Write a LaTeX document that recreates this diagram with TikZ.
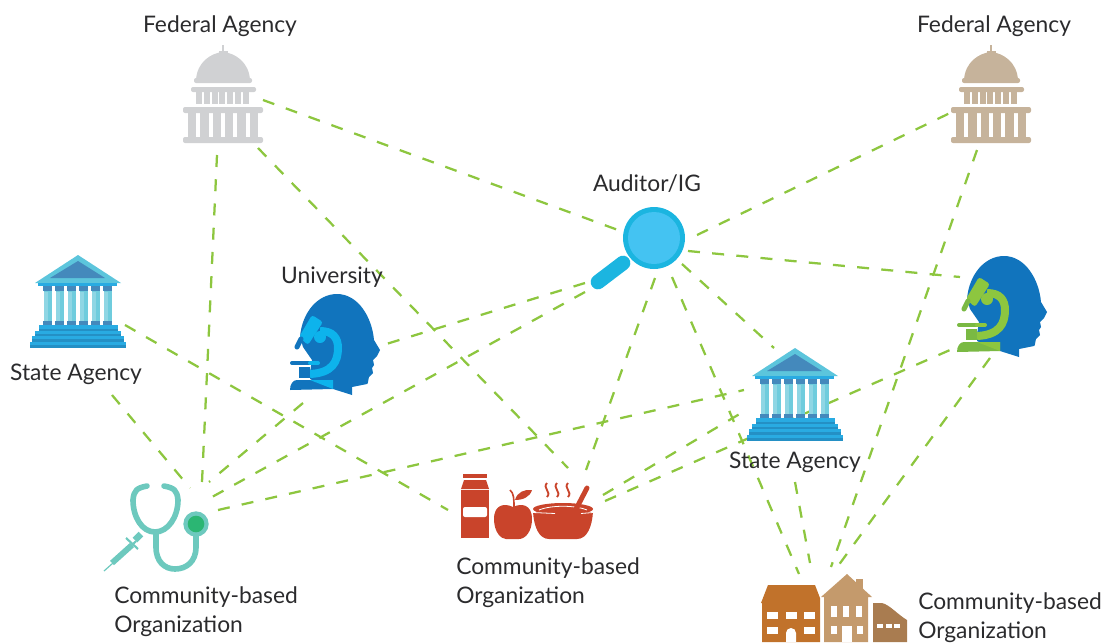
\documentclass[tikz,border=0pt]{standalone}
\usepackage{fontspec}
\setmainfont{Lato}
\definecolor{linkgreen}{HTML}{8DC63F}
\definecolor{ink}{HTML}{2B2B2D}
\definecolor{capgray}{HTML}{D0D1D3}
\definecolor{captan}{HTML}{C6B39B}
\definecolor{roofblue}{HTML}{5CC5DC}
\definecolor{slateblue}{HTML}{4489BC}
\definecolor{stepblue}{HTML}{29ABE2}
\definecolor{stepdark}{HTML}{2490C5}
\definecolor{shaftblue}{HTML}{6FCCDD}
\definecolor{shaftpale}{HTML}{8FD6E4}
\definecolor{headblue}{HTML}{1174BD}
\definecolor{scopeblue}{HTML}{0DB3EC}
\definecolor{scopegreen}{HTML}{8DC63F}
\definecolor{scopedark}{HTML}{7AB943}
\definecolor{lensring}{HTML}{1BB5E0}
\definecolor{lensfill}{HTML}{44C3F2}
\definecolor{stetho}{HTML}{6DC9BE}
\definecolor{chestgreen}{HTML}{2BB673}
\definecolor{foodred}{HTML}{C9442B}
\definecolor{homeA}{HTML}{C1722B}
\definecolor{homeB}{HTML}{C49A6C}
\definecolor{homeC}{HTML}{A97C50}
\tikzset{
  hub/.style={inner sep=0pt,minimum size=0pt},
  lbl/.style={inner sep=0pt,text=ink,align=left,font=\fontsize{17.1}{21.75}\selectfont},
  link/.style={linkgreen,line width=1.7pt,dash pattern=on 9pt off 9.2pt},
  capitol/.pic={
    \fill[#1] (-.7,-55) rectangle (.7,-48);
    \fill[#1] (-4.5,-49) rectangle (4.5,-44);
    \fill[#1] (-27,-20) .. controls (-26,-38) and (-12,-47) .. (0,-48) .. controls (12,-47) and (26,-38) .. (27,-20) -- cycle;
    \fill[#1,rounded corners=1.5pt] (-29,-22) rectangle (29,-17);
    \fill[#1,rounded corners=1.5pt] (-32,-13) rectangle (33,-8);
    \foreach \i in {0,...,6} \fill[#1] (-27+7.8*\i,-9) rectangle (-21+7.8*\i,4);
    \fill[#1,rounded corners=1.5pt] (-40,7) rectangle (40,13);
    \foreach \i in {0,...,5} \fill[#1] (-35+12.3*\i,12) rectangle (-26.7+12.3*\i,38);
    \fill[#1,rounded corners=1.5pt] (-40,37) rectangle (40,43);
  },
  temple/.pic={
    \fill[roofblue] (0,-45) -- (43,-17) -- (-43,-17) -- cycle;
    \fill[slateblue] (0,-39) -- (27,-22) -- (-28,-22) -- cycle;
    \fill[stepblue] (-40,-17) rectangle (39,-14);
    \foreach \i in {0,...,5} {
      \fill[slateblue] (-34.7+12*\i,-14) rectangle (-25.7+12*\i,-9);
      \fill[shaftblue] (-34.2+12*\i,-9) rectangle (-26.2+12*\i,21);
      \fill[shaftpale] (-34.2+12*\i,-8) rectangle (-30.2+12*\i,21);
      \fill[slateblue] (-34.7+12*\i,21) rectangle (-25.7+12*\i,25);
    }
    \foreach \w/\a/\b/\c in {39.5/25/28.5/31,43/31/33.5/36,46/36/39/42,48/42/45/48} {
      \fill[stepblue] (-\w,\a) rectangle (\w,\b);
      \fill[stepdark] (-\w,\b) rectangle (\w,\c);
    }
  },
  pics/headscope/.style n args={3}{code={
    \fill[#1] (-30,-8) .. controls (-28,-33) and (-12,-51) .. (7,-51)
      .. controls (28,-51) and (42,-28) .. (44,-5) -- (50,5) -- (47,11) -- (43,15) -- (44,20) -- (42,23) -- (43,28) -- (39,32)
      .. controls (38,36) and (38,39) .. (37,39) -- (22,42) -- (22,50) -- (3,44) -- (-20,34) -- (-20,27) -- (-18,15) -- (-27,2) -- cycle;
    \fill[#2,rounded corners=2pt] (-18,-30) -- (-7,-23) -- (-22,0) -- (-31,-8) -- cycle;
    \draw[#3,line width=3.8pt,line cap=round] (-29,-6) -- (-33,2);
    \fill[#2] (-10,-8) circle (6);
    \draw[#2,line width=6pt] (-10,-14) .. controls (3,-14) and (8,-7) .. (8,3) .. controls (8,17) and (2,28) .. (-20,29);
    \draw[#3,line width=3pt,line cap=round] (-38,18) -- (-20,18);
    \draw[#2,line width=3pt,line cap=round] (-20,18) -- (-12,18);
    \fill[#3] (-31,22) rectangle (-20,33);
    \fill[#3] (-40,45) .. controls (-40,39) and (-37,35) .. (-33,35) -- (3,35) -- (3,44) -- cycle;
    \fill[#2] (-20,35) -- (3,35) -- (3,44) -- cycle;
  }},
  lens/.pic={
    \draw[lensring,line width=11pt,line cap=round] (-31,25) -- (-56,44);
    \fill[lensring] (0,0) circle (31);
    \fill[lensfill] (0,0) circle (26);
  },
  steth/.pic={
    \draw[stetho,line width=4.2pt,line cap=round] (-33,-39) .. controls (-43,-37) and (-46,-35) .. (-47,-25)
      .. controls (-47,-8) and (-38,7) .. (-25,7) .. controls (-12,7) and (-2,-8) .. (-2,-25)
      .. controls (-3,-35) and (-6,-37) .. (-16,-39);
    \draw[stetho,line width=4.2pt] (-24,7) -- (-24,22) .. controls (-24,37) and (-15,44) .. (-5,44) .. controls (6,44) and (16,37) .. (16,22) -- (16,8);
    \fill[stetho] (16,-1) circle (12.7);
    \fill[chestgreen] (16,-1) circle (8.3);
    \draw[stetho,line width=.9pt] (-76,46) -- (-67,38);
    \draw[stetho,line width=4.4pt] (-68,38) -- (-48,20);
    \draw[stetho,line width=1.6pt] (-54,13) -- (-42,24);
    \draw[stetho,line width=1.6pt] (-48,20) -- (-44,16);
    \draw[stetho,line width=5pt] (-45,15) -- (-39,9);
  },
  meal/.pic={
    \fill[foodred] (-62,-36) rectangle (-38,-32);
    \fill[foodred] (-61,-30) -- (-39,-30) -- (-36,-21) -- (-64,-21) -- cycle;
    \fill[foodred] (-64,-20) rectangle (-36,28);
    \fill[white,rounded corners=1.5pt] (-62,-3) rectangle (-38,7);
    \fill[foodred] (-12,-3) .. controls (-20,-7) and (-31,-6) .. (-31,9) .. controls (-31,22) and (-24,29) .. (-19,29) -- (-6,29)
      .. controls (0,29) and (7,22) .. (7,9) .. controls (7,-6) and (-4,-7) .. (-12,-3) -- cycle;
    \draw[foodred,line width=1.2pt] (-15,-20) .. controls (-11,-17) and (-11,-10) .. (-11,-3);
    \fill[foodred] (-10,-10) .. controls (-8,-18) and (0,-21) .. (7,-20) .. controls (5,-13) and (-2,-10) .. (-10,-10) -- cycle;
    \fill[foodred] (8,2) .. controls (9,17) and (14,29) .. (24,29) -- (52,29) .. controls (62,29) and (67,17) .. (68,2) -- cycle;
    \fill[foodred] (38,-1) ellipse (30 and 6);
    \draw[white,line width=.6pt] (14,0) .. controls (26,-5) and (50,-5) .. (62,0);
    \draw[white,line width=.6pt] (8,2.5) -- (30,3.5);
    \draw[white,line width=.6pt] (56,3.5) -- (68,2.5);
    \draw[foodred,line width=3.7pt,line cap=round] (62,-22) -- (49,3);
    \foreach \x in {22,32,43}
      \draw[foodred,line width=1.4pt] (\x,-27) .. controls (\x-5,-22) and (\x+5,-18) .. (\x,-13);
  },
  houses/.pic={
    \fill[homeA] (-74,-7) -- (-67,-25) -- (-20,-25) -- (-15,-12) -- (-15,32) -- (-73,32) -- (-73,-7) -- cycle;
    \foreach \x in {-68,-49,-31} \fill[white] (\x,2) rectangle (\x+11,9);
    \foreach \x in {-68,-31} \fill[white] (\x,17) rectangle (\x+11,24);
    \fill[white] (-49,32) -- (-49,23) arc (180:360:5) -- (-39,32) -- cycle;
    \fill[homeB] (21,-31) rectangle (28,-20);
    \fill[homeB] (12,-36) -- (37,-13) -- (33,-13) -- (33,32) -- (-11,32) -- (-11,-13) -- (-14,-13) -- cycle;
    \foreach \x in {-4,8,21} \fill[white] (\x,-4) rectangle (\x+6,7);
    \foreach \x in {-4,22} \fill[white] (\x,16) rectangle (\x+6,24);
    \fill[white] (7,16) rectangle (17,32);
    \fill[homeC] (38,-7) -- (47,-7) .. controls (55,-5) and (62,4) .. (72,10) -- (72,32) -- (38,32) -- cycle;
    \foreach \x in {42,51,59} \fill[white] (\x,14) rectangle (\x+5.5,18);
  }
}
\begin{document}
\begin{tikzpicture}[x=.75pt,y=-.75pt]
\useasboundingbox (0,0) rectangle (1107,643);
\node[hub] (fedA) at (223,100) {};
\node[hub] (fedB) at (991,100) {};
\node[hub] (audit) at (654,238) {};
\node[hub] (stateA) at (78,300) {};
\node[hub] (stateB) at (795,393) {};
\node[hub] (uni) at (330,345) {};
\node[hub] (lab) at (997,307) {};
\node[hub] (clinic) at (180,525) {};
\node[hub] (food) at (525,510) {};
\node[hub] (homes) at (835,610) {};
% links
\draw[link] ([shift={(40,0)}]fedA.center) -- ([shift={(-36,-8)}]audit.center);
\draw[link] ([shift={(-6,55)}]fedA.center) -- ([shift={(22,-43)}]clinic.center);
\draw[link] ([shift={(35,48)}]fedA.center) -- ([shift={(43,-42)}]food.center);
\draw[link] ([shift={(43,-3)}]audit.center) -- ([shift={(-41,13)}]fedB.center);
\draw[link] ([shift={(34,13)}]audit.center) -- ([shift={(-37,-30)}]lab.center);
\draw[link] ([shift={(28,26)}]audit.center) -- ([shift={(-21,-45)}]stateB.center);
\draw[link] ([shift={(18,39)}]audit.center) -- ([shift={(-36,-36)}]homes.center);
\draw[link] ([shift={(1,40)}]audit.center) -- ([shift={(61,-40)}]food.center);
\draw[link] ([shift={(-69,45)}]audit.center) -- ([shift={(53,0)}]uni.center);
\draw[link] ([shift={(-69,54)}]audit.center) -- ([shift={(32,-28)}]clinic.center);
\draw[link] ([shift={(-27,58)}]uni.center) -- ([shift={(29,-43)}]clinic.center);
\draw[link] ([shift={(47,25)}]stateA.center) -- ([shift={(-77,0)}]food.center);
\draw[link] ([shift={(34,95)}]stateA.center) -- ([shift={(10,-37)}]clinic.center);
\draw[link] ([shift={(38,-15)}]clinic.center) -- ([shift={(-51,-3)}]stateB.center);
\draw[link] ([shift={(78,-15)}]food.center) -- ([shift={(-47,16)}]stateB.center);
\draw[link] ([shift={(80,-9)}]food.center) -- ([shift={(-47,43)}]lab.center);
\draw[link] ([shift={(0,89)}]stateB.center) -- ([shift={(-25,-47)}]homes.center);
\draw[link] ([shift={(-14,50)}]fedB.center) -- ([shift={(-4,-43)}]homes.center);
\draw[link] ([shift={(-7,51)}]lab.center) -- ([shift={(3,-44)}]homes.center);
% icons
\pic at (fedA) {capitol=capgray};
\pic at (fedB) {capitol=captan};
\pic at (audit) {lens};
\pic at (stateA) {temple};
\pic at (stateB) {temple};
\pic at (uni) {headscope={headblue}{scopeblue}{headblue}};
\pic at (lab) {headscope={headblue}{scopegreen}{scopedark}};
\pic at (clinic) {steth};
\pic at (food) {meal};
\pic at (homes) {houses};
% labels
\node[lbl] (fedAtxt) at (220,26) {Federal Agency};
\node[lbl] (fedBtxt) at (994,26) {Federal Agency};
\node[lbl] (audittxt) at (647,184) {Auditor/IG};
\node[lbl] (unitxt) at (332,277) {University};
\node[lbl] (stateAtxt) at (76,374) {State Agency};
\node[lbl] (stateBtxt) at (795,462) {State Agency};
\node[lbl,anchor=west] (clinictxt) at (114,612) {Community-based\\Organization};
\node[lbl,anchor=west] (foodtxt) at (456,583) {Community-based\\Organization};
\node[lbl,anchor=west] (homestxt) at (918,617.5) {Community-based\\Organization};
\end{tikzpicture}
\end{document}
